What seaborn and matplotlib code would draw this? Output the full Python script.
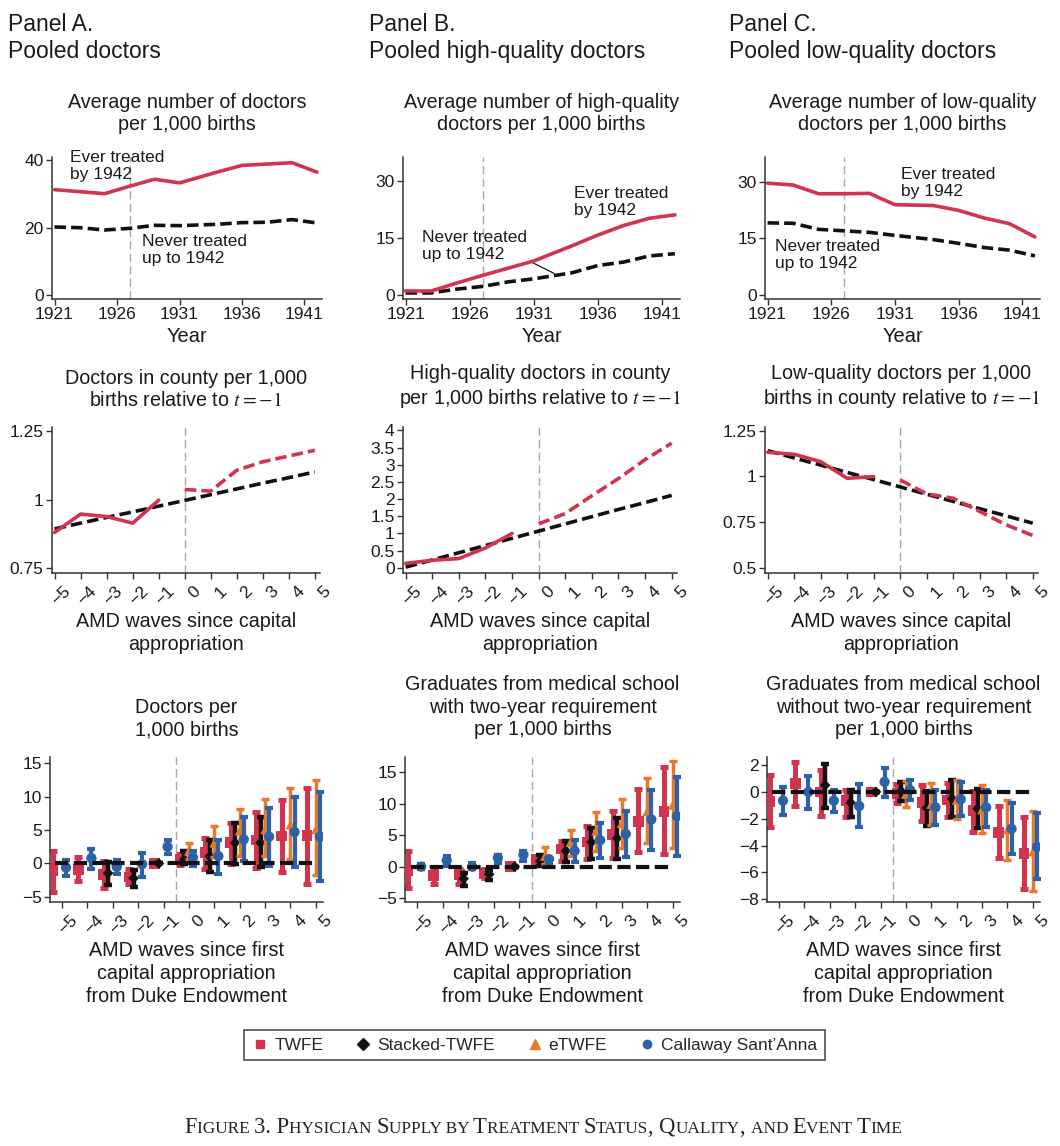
import numpy as np
import pandas as pd
import matplotlib
matplotlib.use("Agg")
import matplotlib.pyplot as plt
import matplotlib.transforms as mtransforms
from matplotlib.lines import Line2D
import seaborn as sns

# ---------------- data ----------------
years = [1921, 1923, 1925, 1927, 1929, 1931, 1934, 1936, 1938, 1940, 1942]
A_ever = [31.3, 30.7, 30.1, 32.3, 34.4, 33.3, 36.5, 38.5, 38.9, 39.3, 36.5]
A_never = [20.2, 20.0, 19.3, 19.8, 20.7, 20.6, 21.0, 21.5, 21.6, 22.4, 21.4]
B_ever = [1.1, 1.1, 3.2, 5.2, 7.1, 9.0, 13.0, 15.8, 18.3, 20.2, 21.1]
B_never = [0.6, 0.6, 1.6, 2.3, 3.5, 4.3, 5.9, 7.8, 8.7, 10.3, 10.9]
C_ever = [29.6, 29.1, 26.8, 26.8, 26.9, 23.9, 23.7, 22.4, 20.4, 18.9, 15.4]
C_never = [19.1, 19.0, 17.4, 17.0, 16.6, 15.8, 14.7, 13.7, 12.6, 11.9, 10.4]

event = [-5, -4, -3, -2, -1, 0, 1, 2, 3, 4, 5]
event_pre = [-5, -4, -3, -2, -1]
event_post = [0, 1, 2, 3, 4, 5]
event_labels = ["\u22125", "\u22124", "\u22123", "\u22122", "\u22121", "0", "1", "2", "3", "4", "5"]

A_pre = [0.880, 0.947, 0.938, 0.914, 0.998]
A_post = [1.037, 1.031, 1.107, 1.138, 1.159, 1.180]
A_trend = [0.893, 0.914, 0.935, 0.955, 0.976, 0.997, 1.018, 1.039, 1.060, 1.080, 1.101]
B_pre = [0.13, 0.22, 0.27, 0.58, 1.00]
B_post = [1.28, 1.58, 2.10, 2.60, 3.15, 3.63]
B_trend = [0.02, 0.23, 0.44, 0.65, 0.86, 1.07, 1.28, 1.49, 1.70, 1.90, 2.11]
C_pre = [1.132, 1.121, 1.081, 0.990, 0.999]
C_post = [0.981, 0.905, 0.881, 0.809, 0.736, 0.678]
C_trend = [1.141, 1.101, 1.062, 1.022, 0.983, 0.943, 0.903, 0.864, 0.824, 0.785, 0.745]

nan = np.nan
# Panel A event study (doctors per 1,000 births)
A_twfe = [-1.1, -0.85, -1.7, -2.0, 0, 0.6, 1.6, 3.1, 3.5, 4.1, 4.2]
A_twfe_lo = [-4.2, -2.6, -3.6, -3.1, 0, -0.2, -0.85, -0.1, -0.7, -1.2, -3.0]
A_twfe_hi = [1.9, 1.0, 0.4, -0.85, 0, 1.4, 3.8, 6.1, 7.7, 9.5, 11.3]
A_stk = [nan, nan, -1.45, -2.2, 0, 0.6, 1.1, 3.1, 3.1, nan, nan]
A_stk_lo = [nan, nan, -3.2, -3.5, 0, -0.1, -1.25, -0.1, -0.5, nan, nan]
A_stk_hi = [nan, nan, 0.15, -1.0, 0, 1.9, 3.5, 6.1, 7.0, nan, nan]
A_etw = [nan, nan, nan, nan, nan, 1.9, 3.1, 4.9, 5.1, 5.8, 5.1]
A_etw_lo = [nan, nan, nan, nan, nan, 0.6, 0.9, 1.1, 1.1, 0.6, -1.7]
A_etw_hi = [nan, nan, nan, nan, nan, 3.0, 5.6, 8.1, 9.7, 11.2, 12.4]
A_cs = [-0.6, 0.8, -0.5, -0.1, 2.5, 0.9, 1.1, 3.6, 4.0, 4.7, 4.0]
A_cs_lo = [-1.8, -0.85, -1.6, -2.0, 1.4, -0.35, -1.5, 0.4, -0.35, -0.5, -2.6]
A_cs_hi = [0.5, 2.1, 0.5, 1.5, 3.5, 1.9, 3.5, 6.9, 8.3, 9.9, 10.7]

# Panel B event study (graduates with two-year requirement)
B_twfe = [-0.7, -1.4, -1.2, -1.1, 0, 1.2, 2.8, 3.9, 5.1, 7.2, 8.8]
B_twfe_lo = [-3.4, -2.8, -2.7, -1.8, 0, 0.6, 0.9, 1.2, 1.4, 2.3, 2.0]
B_twfe_hi = [2.5, -0.15, -0.4, -0.4, 0, 1.4, 4.0, 6.4, 8.8, 12.3, 15.8]
B_stk = [nan, nan, -1.9, -1.2, 0, 0.9, 2.5, 3.9, 4.5, nan, nan]
B_stk_lo = [nan, nan, -3.1, -2.1, 0, 0.1, 0.8, 1.2, 1.3, nan, nan]
B_stk_hi = [nan, nan, -1.0, -0.5, 0, 1.8, 4.1, 6.2, 7.7, nan, nan]
B_etw = [nan, nan, nan, nan, nan, 1.7, 3.9, 5.7, 6.9, 8.8, 9.8]
B_etw_lo = [nan, nan, nan, nan, nan, 0.4, 1.7, 2.5, 2.9, 3.8, 2.9]
B_etw_hi = [nan, nan, nan, nan, nan, 3.2, 5.8, 8.6, 10.8, 14.1, 16.7]
B_cs = [0.0, 1.0, 0.0, 1.4, 1.9, 1.2, 2.5, 4.2, 5.2, 7.5, 8.0]
B_cs_lo = [-0.4, 0.1, -0.4, 0.6, 0.9, 0.6, 0.8, 1.4, 1.6, 2.7, 1.7]
B_cs_hi = [0.4, 1.7, 0.6, 1.9, 2.5, 1.4, 4.2, 7.0, 8.8, 12.2, 14.3]

# Panel C event study (graduates without two-year requirement)
C_twfe = [-0.7, 0.6, 0.0, -0.65, 0, -0.1, -0.8, -0.6, -1.4, -3.0, -4.6]
C_twfe_lo = [-2.6, -1.05, -1.8, -1.9, 0, -0.85, -2.2, -1.85, -2.95, -4.95, -7.25]
C_twfe_hi = [1.25, 2.25, 1.6, 0.15, 0, 0.6, 0.55, 0.7, 0.1, -1.05, -1.9]
C_stk = [nan, nan, 0.5, -0.8, 0, 0.05, -1.2, -0.5, -1.25, nan, nan]
C_stk_lo = [nan, nan, -1.2, -1.9, 0, -0.7, -2.55, -1.85, -2.7, nan, nan]
C_stk_hi = [nan, nan, 2.1, 0.15, 0, 0.75, 0.1, 0.85, 0.2, nan, nan]
C_etw = [nan, nan, nan, nan, nan, -0.15, -0.9, -0.6, -1.3, -2.8, -4.45]
C_etw_lo = [nan, nan, nan, nan, nan, -1.15, -2.45, -2.05, -3.05, -5.1, -7.35]
C_etw_hi = [nan, nan, nan, nan, nan, 0.8, 0.7, 0.9, 0.5, -0.6, -1.45]
C_cs = [-0.65, 0.0, -0.65, -1.05, 0.75, 0.15, -1.15, -0.55, -1.15, -2.75, -4.1]
C_cs_lo = [-1.7, -1.25, -1.5, -2.6, -0.35, -0.6, -2.5, -1.8, -2.6, -4.6, -6.5]
C_cs_hi = [0.4, 1.2, 0.15, 0.6, 1.75, 0.9, 0.15, 0.75, 0.15, -0.85, -1.6]

estimators = ["TWFE", "Stacked-TWFE", "eTWFE", "Callaway Sant\u2019Anna"]

# ---------------- style ----------------
sns.set_theme(style="ticks")
plt.rcParams["font.family"] = ["Liberation Sans", "DejaVu Sans"]
plt.rcParams["mathtext.fontset"] = "stix"

RED = "#D1344F"
ORANGE = "#E57A2E"
BLUE = "#2D62A8"
BLACK = "#111111"
SPINE = "#333333"
GRAY = "#A8A8A8"
TXT = "#1a1a1a"

W, H = 1060, 1146
fig = plt.figure(figsize=(W / 100, H / 100), dpi=100)
fig.patch.set_facecolor("white")


def ax_at(l, t, r, b):
    return fig.add_axes([l / W, 1 - b / H, (r - l) / W, (b - t) / H])


def style_ax(ax):
    for s in ["top", "right"]:
        ax.spines[s].set_visible(False)
    for s in ["left", "bottom"]:
        ax.spines[s].set_color(SPINE)
        ax.spines[s].set_linewidth(1.1)
    ax.tick_params(axis="both", length=4, width=1, color=SPINE, labelsize=12.5,
                   labelcolor=TXT, pad=2)
    ax.set_xlabel("")
    ax.set_ylabel("")
    ax.set_facecolor("white")


TFS = 14.2  # title font size
XFS = 14.2  # x-label font size
cols1 = [(52, 322), (403, 680), (765, 1040)]
cols2 = [(52, 320), (403, 677), (765, 1038)]
cols3 = [(50, 323), (405, 680), (767, 1040)]

# ---------------- headers ----------------
headers = ["Panel A.\nPooled doctors", "Panel B.\nPooled high-quality doctors",
           "Panel C.\nPooled low-quality doctors"]
hx = [8, 369, 729]
for x, h in zip(hx, headers):
    fig.text(x / W, 1 - 13 / H, h, ha="left", va="top", fontsize=16.5,
             color=TXT, linespacing=1.22)

# ---------------- row 1 ----------------
row1_titles = ["Average number of doctors\nper 1,000 births",
               "Average number of high-quality\ndoctors per 1,000 births",
               "Average number of low-quality\ndoctors per 1,000 births"]
ever = [A_ever, B_ever, C_ever]
never = [A_never, B_never, C_never]
ylims1 = [(-1.2, 41), (-1.0, 36.3), (-1.0, 36.5)]
yticks1 = [[0, 20, 40], [0, 15, 30], [0, 15, 30]]
for i in range(3):
    l, r = cols1[i]
    ax = ax_at(l, 157, r, 299)
    style_ax(ax)
    ax.axvline(1927, color=GRAY, lw=1.0, ls=(0, (6, 3)), zorder=1)
    sns.lineplot(x=years, y=never[i], ax=ax, color=BLACK, lw=2.6,
                 linestyle=(0, (3.2, 1.4)), zorder=3)
    sns.lineplot(x=years, y=ever[i], ax=ax, color=RED, lw=2.6, zorder=4)
    ax.set_xlim(1920.8, 1942.4)
    ax.set_ylim(*ylims1[i])
    ax.set_xticks([1921, 1926, 1931, 1936, 1941])
    ax.set_yticks(yticks1[i])
    ax.set_xlabel("Year", fontsize=14.5, color=TXT, labelpad=3.5)
    fig.text((l + r) / 2 / W, 1 - 134 / H, row1_titles[i], ha="center",
             va="bottom", fontsize=TFS, color=TXT, linespacing=1.22)
    if i == 0:
        ax.text(1922.2, 43.0, "Ever treated\nby 1942", fontsize=12.5, va="top",
                ha="left", color=TXT, linespacing=1.15, clip_on=False)
        ax.text(1928.0, 18.0, "Never treated\nup to 1942", fontsize=12.5,
                va="top", ha="left", color=TXT, linespacing=1.15)
    elif i == 1:
        ax.text(1934.1, 28.7, "Ever treated\nby 1942", fontsize=12.5, va="top",
                ha="left", color=TXT, linespacing=1.15)
        ax.annotate("Never treated\nup to 1942", xy=(1932.6, 5.7),
                    xytext=(1922.3, 17.0), fontsize=12.5, va="top", ha="left",
                    color=TXT, linespacing=1.15,
                    arrowprops=dict(arrowstyle="-", color=TXT, lw=0.9,
                                    shrinkA=0, shrinkB=0,
                                    relpos=(0.86, 0.3)))
    else:
        ax.text(1931.5, 33.9, "Ever treated\nby 1942", fontsize=12.5, va="top",
                ha="left", color=TXT, linespacing=1.15)
        ax.text(1921.6, 14.8, "Never treated\nup to 1942", fontsize=12.5,
                va="top", ha="left", color=TXT, linespacing=1.15)


def rotated_event_ticks(ax):
    ax.set_xticks(event)
    ax.set_xticklabels(event_labels, rotation=45, ha="right", va="top",
                       rotation_mode="anchor", fontsize=12.5)
    off = mtransforms.ScaledTranslation(8 / 100, -2 / 100, fig.dpi_scale_trans)
    for lab in ax.get_xticklabels():
        lab.set_transform(lab.get_transform() + off)


# ---------------- row 2 ----------------
row2_titles = ["Doctors in county per 1,000\nbirths relative to $t=-1$",
               "High-quality doctors in county\nper 1,000 births relative to $t=-1$",
               "Low-quality doctors per 1,000\nbirths in county relative to $t=-1$"]
pre = [A_pre, B_pre, C_pre]
post = [A_post, B_post, C_post]
trend = [A_trend, B_trend, C_trend]
ylims2 = [(0.732, 1.265), (-0.15, 4.1), (0.473, 1.27)]
yticks2 = [[0.75, 1, 1.25], [0, 0.5, 1, 1.5, 2, 2.5, 3, 3.5, 4], [0.5, 0.75, 1, 1.25]]
ytl2 = [["0.75", "1", "1.25"],
        ["0", "0.5", "1", "1.5", "2", "2.5", "3", "3.5", "4"],
        ["0.5", "0.75", "1", "1.25"]]
for i in range(3):
    l, r = cols2[i]
    ax = ax_at(l, 427, r, 573)
    style_ax(ax)
    ax.axvline(0, color=GRAY, lw=1.0, ls=(0, (6, 3)), zorder=1)
    sns.lineplot(x=event, y=trend[i], ax=ax, color=BLACK, lw=2.6,
                 linestyle=(0, (3.2, 1.4)), zorder=3)
    sns.lineplot(x=event_pre, y=pre[i], ax=ax, color=RED, lw=2.6, zorder=4)
    sns.lineplot(x=event_post, y=post[i], ax=ax, color=RED, lw=2.6,
                 linestyle=(0, (3.2, 1.4)), zorder=4)
    ax.set_xlim(-5.1, 5.2)
    ax.set_ylim(*ylims2[i])
    ax.set_yticks(yticks2[i])
    ax.set_yticklabels(ytl2[i])
    rotated_event_ticks(ax)
    fig.text((l + r) / 2 / W, 1 - 410 / H, row2_titles[i], ha="center",
             va="bottom", fontsize=TFS, color=TXT, linespacing=1.22)
    fig.text((l + r) / 2 / W, 1 - 612 / H, "AMD waves since capital\nappropriation",
             ha="center", va="top", fontsize=XFS, color=TXT, linespacing=1.25)

# ---------------- row 3 ----------------
row3_titles = ["Doctors per\n1,000 births",
               "Graduates from medical school\nwith two-year requirement\nper 1,000 births",
               "Graduates from medical school\nwithout two-year requirement\nper 1,000 births"]
es_data = [
    [(A_twfe, A_twfe_lo, A_twfe_hi), (A_stk, A_stk_lo, A_stk_hi),
     (A_etw, A_etw_lo, A_etw_hi), (A_cs, A_cs_lo, A_cs_hi)],
    [(B_twfe, B_twfe_lo, B_twfe_hi), (B_stk, B_stk_lo, B_stk_hi),
     (B_etw, B_etw_lo, B_etw_hi), (B_cs, B_cs_lo, B_cs_hi)],
    [(C_twfe, C_twfe_lo, C_twfe_hi), (C_stk, C_stk_lo, C_stk_hi),
     (C_etw, C_etw_lo, C_etw_hi), (C_cs, C_cs_lo, C_cs_hi)],
]
offsets = [-0.35, -0.18, 0.0, 0.16]
colors = [RED, BLACK, ORANGE, BLUE]
markers = ["s", "D", "^", "o"]
msizes = [60, 30, 50, 55]
elw = [3.6, 3.2, 2.5, 3.0]
ylims3 = [(-5.75, 15.9), (-5.6, 17.4), (-8.2, 2.6)]
yticks3 = [[-5, 0, 5, 10, 15], [-5, 0, 5, 10, 15], [-8, -6, -4, -2, 0, 2]]
for i in range(3):
    l, r = cols3[i]
    ax = ax_at(l, 757, r, 902)
    style_ax(ax)
    ax.axvline(-0.5, color=GRAY, lw=1.0, ls=(0, (6, 3)), zorder=1)
    for k in range(4):
        est, lo, hi = es_data[i][k]
        df = pd.DataFrame({"event": event, "est": est, "lo": lo, "hi": hi})
        df = df.dropna()
        xs = df["event"] + offsets[k]
        ax.errorbar(xs, df["est"], yerr=[df["est"] - df["lo"], df["hi"] - df["est"]],
                    fmt="none", ecolor=colors[k], elinewidth=elw[k], capsize=2.6,
                    capthick=elw[k], zorder=2 + k)
        sns.scatterplot(x=xs, y=df["est"], ax=ax, color=colors[k],
                        marker=markers[k], s=msizes[k], edgecolor="none",
                        zorder=3 + k, legend=False)
    ax.axhline(0, xmin=0.02, xmax=0.965, color=BLACK, lw=3.0,
               ls=(0, (3.2, 1.3)), zorder=10)
    ax.set_xlim(-5.47, 5.28)
    ax.set_ylim(*ylims3[i])
    ax.set_yticks(yticks3[i])
    ax.set_yticklabels([str(v).replace("-", "\u2212") for v in yticks3[i]])
    rotated_event_ticks(ax)
    ax.set_xlabel("")
    ax.set_ylabel("")
    fig.text((l + r) / 2 / W, 1 - 739 / H, row3_titles[i], ha="center",
             va="bottom", fontsize=TFS, color=TXT, linespacing=1.22)
    fig.text((l + r) / 2 / W, 1 - 941 / H,
             "AMD waves since first\ncapital appropriation\nfrom Duke Endowment",
             ha="center", va="top", fontsize=XFS, color=TXT, linespacing=1.25)

# ---------------- legend ----------------
handles = [Line2D([], [], ls="none", marker=m, color=c, markersize=ms)
           for m, c, ms in zip(markers, colors, [6, 6, 7, 6])]
leg = fig.legend(handles, estimators, loc="center", ncol=4,
                 bbox_to_anchor=(534.5 / W, 1 - 1045 / H), frameon=True,
                 fontsize=12.5, handletextpad=0.3, columnspacing=1.8,
                 borderpad=0.45, handlelength=1.0)
leg.get_frame().set_edgecolor("#222222")
leg.get_frame().set_linewidth(1.2)
leg.get_frame().set_boxstyle("square", pad=0)

# ---------------- caption (small caps) ----------------
caption = "Figure 3. Physician Supply by Treatment Status, Quality, and Event Time"
renderer = fig.canvas.get_renderer()
pieces = []
cur, cur_big = "", None
for ch in caption:
    big = not ch.islower()
    if ch == " ":
        big = cur_big if cur_big is not None else True
    if cur_big is None or big == cur_big:
        cur += ch
        cur_big = big
    else:
        pieces.append((cur, cur_big))
        cur, cur_big = ch, big
pieces.append((cur, cur_big))
texts = []
for s, big in pieces:
    t = fig.text(0, 1 - 1133 / H, s.upper(), fontsize=16.3 if big else 12.4,
                 family=["Liberation Serif", "DejaVu Serif"], color="#222222",
                 ha="left", va="baseline")
    texts.append(t)
widths = []
for t in texts:
    bb = t.get_window_extent(renderer)
    widths.append(bb.width)
total = sum(widths)
x0 = 543.5 - total / 2
for t, w in zip(texts, widths):
    t.set_x(x0 / W)
    x0 += w

fig.savefig("out.png", dpi=100, facecolor="white")
